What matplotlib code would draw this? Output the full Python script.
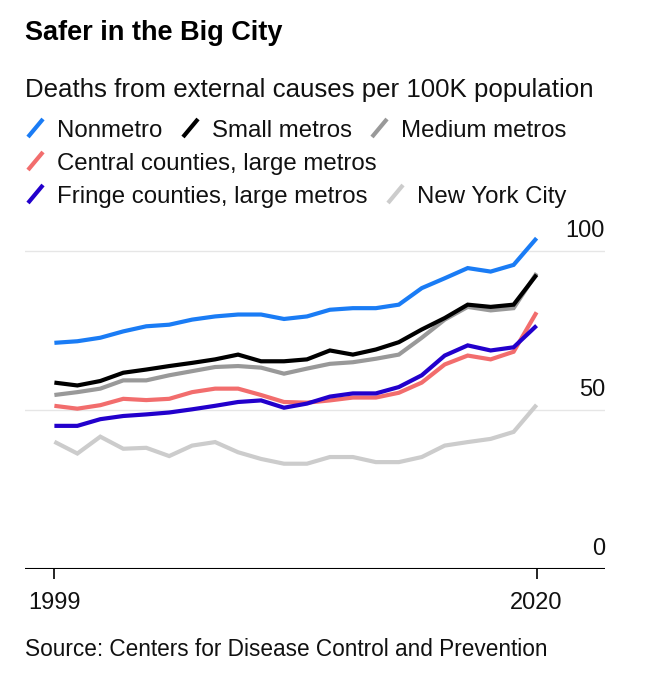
import numpy as np
import matplotlib
matplotlib.use("Agg")
import matplotlib.pyplot as plt
from matplotlib.lines import Line2D

plt.rcParams['font.family'] = ['Liberation Sans', 'DejaVu Sans']

# data, deaths per 100K
years = list(range(1999, 2021))
nonmetro = [71.1, 71.6, 72.7, 74.7, 76.3, 76.8, 78.4, 79.4, 80.0, 80.0, 78.6,
            79.4, 81.5, 82.0, 82.0, 83.1, 88.3, 91.4, 94.6, 93.5, 95.6, 104.0]
small_metros = [58.6, 57.7, 59.1, 61.7, 62.7, 63.8, 64.8, 65.9, 67.4, 65.3, 65.3,
                65.9, 68.7, 67.4, 69.0, 71.3, 75.3, 78.9, 83.1, 82.4, 83.1, 92.5]
medium_metros = [54.7, 55.6, 56.7, 59.3, 59.3, 60.9, 62.2, 63.5, 63.8, 63.3, 61.4,
                 63.0, 64.5, 65.0, 66.1, 67.4, 72.7, 78.4, 82.4, 81.3, 82.0, 93.0]
central = [51.3, 50.4, 51.5, 53.5, 53.1, 53.5, 55.6, 56.7, 56.7, 54.7, 52.5,
           52.3, 53.0, 53.9, 53.9, 55.4, 58.6, 64.3, 67.1, 65.9, 68.3, 80.7]
fringe = [45.0, 45.0, 47.1, 48.1, 48.6, 49.2, 50.2, 51.3, 52.5, 53.0, 50.7,
          52.0, 54.2, 55.2, 55.2, 57.2, 60.9, 67.1, 70.3, 68.7, 69.7, 76.5]
nyc = [40.0, 36.3, 41.6, 37.8, 38.1, 35.5, 38.8, 39.9, 36.7, 34.6, 33.1,
       33.1, 35.2, 35.2, 33.6, 33.6, 35.2, 38.8, 39.9, 40.9, 43.1, 51.6]

names = ["Nonmetro", "Small metros", "Medium metros",
         "Central counties, large metros", "Fringe counties, large metros",
         "New York City"]
colors = ["#1a7cf5", "#000000", "#999999", "#f26d6d", "#2200cc", "#cccccc"]
series = [nonmetro, small_metros, medium_metros, central, fringe, nyc]
y_ticks = [0, 50, 100]
x_ticks = [1999, 2020]

W, H = 647, 680
fig = plt.figure(figsize=(W / 100, H / 100), dpi=100)

def fx(px):
    return px / W

def fy(py):
    return 1 - py / H

ax = fig.add_axes([fx(25), fy(569), fx(605) - fx(25), fy(235) - fy(569)])

# draw back to front so the order matches
for i in [5, 2, 1, 3, 4, 0]:
    ax.plot(years, series[i], color=colors[i], lw=3, solid_capstyle='butt',
            solid_joinstyle='miter', zorder=3)

ax.set_xlim(1997.72, 2022.98)
ax.set_ylim(0, 105)
for t in y_ticks[1:]:
    ax.axhline(t, color='#e6e6e6', lw=1, zorder=1)
ax.axhline(0, color='black', lw=1.5, zorder=4)
for t in y_ticks:
    ax.annotate(str(t), xy=(1, t), xycoords=('axes fraction', 'data'),
                xytext=(0, 10), textcoords='offset points',
                ha='right', va='baseline', fontsize=17, color='#111111')

for s in ax.spines.values():
    s.set_visible(False)
ax.set_yticks([])
ax.set_xticks(x_ticks)
ax.set_xticklabels([str(t) for t in x_ticks])
ax.tick_params(axis='x', length=7, width=1.2, color='black', pad=9.5,
               labelsize=17, labelcolor='#111111')

# header
fig.text(fx(25), fy(40), "Safer in the Big City", fontsize=19.5,
         fontweight='bold', va='baseline', ha='left')
fig.text(fx(25), fy(97), "Deaths from external causes per 100K population",
         fontsize=18.6, va='baseline', ha='left', color='#111111')

# legend: slash marker then label, laid out in rows like the original
legend_pos = [(26, 57, 137), (181, 212, 137), (370, 401, 137),
              (26, 57, 170), (26, 57, 203), (386, 417, 203)]
for (sx, tx, base), name, c in zip(legend_pos, names, colors):
    fig.add_artist(Line2D([fx(sx + 2), fx(sx + 17)], [fy(base), fy(base - 18)],
                          color=c, lw=3, solid_capstyle='butt',
                          transform=fig.transFigure))
    fig.text(fx(tx), fy(base), name, fontsize=17.3, va='baseline', ha='left',
             color='#111111')

fig.text(fx(25), fy(656), "Source: Centers for Disease Control and Prevention",
         fontsize=16.3, va='baseline', ha='left', color='#111111')

fig.savefig("out.png", dpi=100, facecolor='white')
